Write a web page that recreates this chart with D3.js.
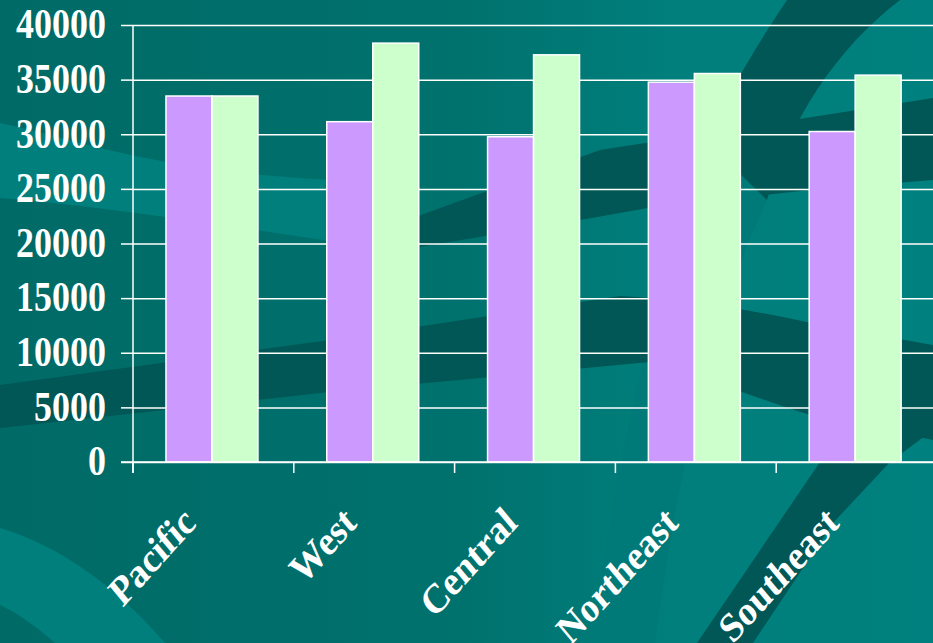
<!DOCTYPE html>
<html>
<head>
<meta charset="utf-8">
<script src="https://cdn.jsdelivr.net/npm/d3@7"></script>
<style>
  html, body { margin: 0; padding: 0; background: #006b68; }
  svg { display: block; }
</style>
</head>
<body>
<div id="chart"></div>
<script>
// data
const regions = ["Pacific", "West", "Central", "Northeast", "Southeast"];
const seriesNames = ["first", "second"];
const firstValues = [33500, 31150, 29770, 34770, 30250];
const secondValues = [33500, 38340, 37270, 35560, 35410];
const yTicks = [0, 5000, 10000, 15000, 20000, 25000, 30000, 35000, 40000];

const W = 933, H = 643;
const margin = { top: 25, left: 133, bottom: 181, right: -4 };
const colors = { first: "#cc99ff", second: "#ccffcc" };
const font = "'Liberation Serif', 'Times New Roman', serif";

const svg = d3.select("#chart").append("svg")
    .attr("width", W)
    .attr("height", H);

// background: teal with swooshes
const defs = svg.append("defs");
const grad = defs.append("linearGradient").attr("id", "bg").attr("x1", 0).attr("x2", 1).attr("y1", 0).attr("y2", 0);
grad.append("stop").attr("offset", "0%").attr("stop-color", "#006a66");
grad.append("stop").attr("offset", "50%").attr("stop-color", "#00726e");
grad.append("stop").attr("offset", "72%").attr("stop-color", "#007f7c");
grad.append("stop").attr("offset", "100%").attr("stop-color", "#00807e");

const bg = svg.append("g");
bg.append("rect").attr("width", W).attr("height", H).attr("fill", "url(#bg)");

const dark = "#005756", light = "#007f7c";
const shapes = [
    // lighter band upper left
    { fill: light, d: "M0,123 C80,140 150,170 330,180 L420,186 L420,244 L330,241 C200,222 100,206 0,198 Z" },
    // dark stripe upper right
    { fill: dark, d: "M330,248 L600,150 L793,120 L933,98 L933,180 L810,190 L648,208 L580,220 L330,262 Z" },
    // big arc top right
    { fill: dark, d: "M787,0 C760,40 730,90 705,140 L700,170 L767,200 C790,120 835,50 900,0 Z" },
    // arc continuation (lighter, subtle)
    { fill: "#007a78", d: "M705,140 C660,260 620,450 590,643 L655,643 C680,450 720,300 767,200 Z" },
    // dark wave across the middle, bending down on the right
    { fill: dark, d: "M0,385 L330,340 L620,296 C700,300 760,312 820,325 L933,345 L933,440 L810,415 C760,400 700,375 650,362 L330,392 L0,428 Z" },
    // dark stripe lower right
    { fill: dark, d: "M933,345 C905,360 880,390 855,420 L820,462 L697,643 L753,643 L833,523 L890,462 L933,430 Z" },
    // lighter band lower left
    { fill: light, d: "M0,528 C60,545 120,590 165,643 L55,643 C35,625 15,612 0,605 Z" }
];
bg.selectAll("path").data(shapes).join("path")
    .attr("d", d => d.d)
    .attr("fill", d => d.fill);

// scales
const x0 = d3.scaleBand().domain(regions).range([margin.left, W - margin.right]).padding(0);
const x1 = d3.scaleBand().domain(seriesNames)
    .range([x0.bandwidth() * 0.205, x0.bandwidth() * 0.777]);
const y = d3.scaleLinear().domain([0, 40000]).range([H - margin.bottom, margin.top]);

// gridlines
svg.append("g")
    .attr("transform", `translate(${margin.left},0)`)
    .call(d3.axisLeft(y).tickValues(yTicks).tickSize(-(W - margin.left)).tickFormat(""))
    .call(g => g.select(".domain").remove())
    .call(g => g.selectAll("line").attr("stroke", "#ffffff").attr("stroke-width", 1.5).attr("x2", W));

// y labels + left ticks
svg.append("g")
    .attr("transform", `translate(${margin.left},0)`)
    .call(d3.axisLeft(y).tickValues(yTicks).tickSize(12).tickPadding(16).tickFormat(d3.format("d")))
    .call(g => g.select(".domain").attr("stroke", "#ffffff").attr("stroke-width", 1.5)
        .attr("d", `M0,${y(40000)}V${y(0) + 11}`))
    .call(g => g.selectAll("line").attr("stroke", "#ffffff").attr("stroke-width", 1.5))
    .call(g => g.selectAll("text")
        .attr("fill", "#ffffff")
        .attr("font-family", font)
        .attr("font-weight", "bold")
        .attr("font-size", 37)
        .attr("dy", "0.3em")
        .attr("transform", "scale(0.97,1.15)"));

// bars
const rows = regions.map((r, i) => ({ region: r, first: firstValues[i], second: secondValues[i] }));
svg.append("g").selectAll("g").data(rows).join("g")
    .attr("transform", d => `translate(${x0(d.region)},0)`)
    .selectAll("rect")
    .data(d => seriesNames.map(k => ({ key: k, value: d[k] })))
    .join("rect")
    .attr("x", d => x1(d.key))
    .attr("width", x1.bandwidth())
    .attr("y", d => y(d.value))
    .attr("height", d => y(0) - y(d.value))
    .attr("fill", d => colors[d.key])
    .attr("stroke", "#ffffff")
    .attr("stroke-width", 1.5);

// x axis
const xTickPos = regions.map(r => x0(r));
svg.append("g")
    .attr("transform", `translate(0,${y(0)})`)
    .call(d3.axisBottom(x0).tickSize(0).tickFormat(""))
    .call(g => g.select(".domain").attr("stroke", "#ffffff").attr("stroke-width", 1.5)
        .attr("d", `M${margin.left - 12},0H${W}`));
svg.append("g").selectAll("line").data(xTickPos).join("line")
    .attr("x1", d => d).attr("x2", d => d)
    .attr("y1", y(0)).attr("y2", y(0) + 11)
    .attr("stroke", "#ffffff").attr("stroke-width", 1.5);

// rotated category labels
svg.append("g").selectAll("text").data(regions).join("text")
    .attr("transform", d => `translate(${x0(d) + x0.bandwidth() / 2 - 16},${525}) scale(1,1.15) rotate(-44)`)
    .attr("text-anchor", "end")
    .attr("fill", "#ffffff")
    .attr("font-family", font)
    .attr("font-weight", "bold")
    .attr("font-size", 36)
    .text(d => d);
</script>
</body>
</html>
